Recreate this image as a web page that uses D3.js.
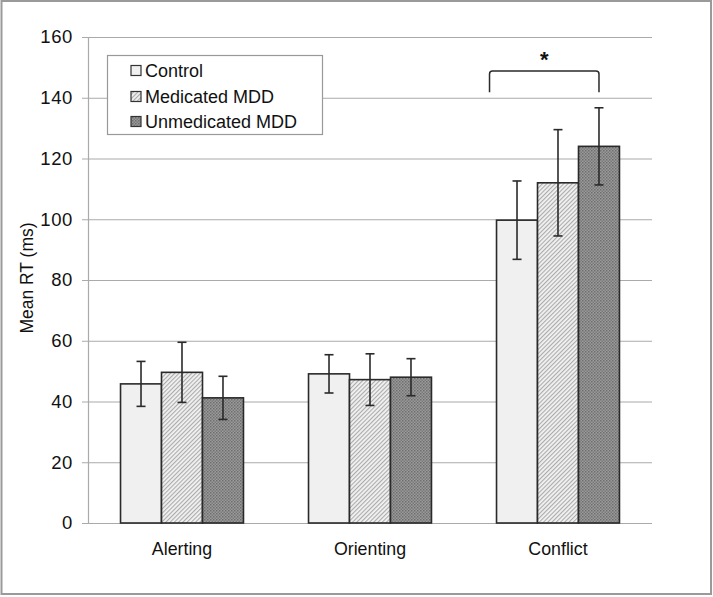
<!DOCTYPE html>
<html>
<head>
<meta charset="utf-8">
<script src="https://cdn.jsdelivr.net/npm/d3@7"></script>
<style>
  html, body { margin: 0; padding: 0; background: #fff; }
  svg { display: block; }
  text { font-family: "Liberation Sans", Arial, Helvetica, sans-serif; fill: #111; }
</style>
</head>
<body>
<svg id="chart" width="713" height="597"></svg>
<script>
// ---- data ----
const categories = ["Alerting", "Orienting", "Conflict"];
const seriesNames = ["Control", "Medicated MDD", "Unmedicated MDD"];
const controlMeans = [45.8, 49.1, 99.7];
const medicatedMeans = [49.6, 47.2, 112.0];
const unmedicatedMeans = [41.2, 48.0, 124.0];
const controlErr = [7.4, 6.3, 12.9];
const medicatedErr = [9.9, 8.5, 17.5];
const unmedicatedErr = [7.1, 6.1, 12.7];
const yTicks = [0, 20, 40, 60, 80, 100, 120, 140, 160];
const yLabel = "Mean RT (ms)";
const sigLabel = "*";

const seriesMeans = [controlMeans, medicatedMeans, unmedicatedMeans];
const seriesErrs = [controlErr, medicatedErr, unmedicatedErr];

const svg = d3.select("#chart");
const W = 713, H = 597;

// defs: patterns
const defs = svg.append("defs");
const hatch = defs.append("pattern").attr("id", "hatch")
  .attr("patternUnits", "userSpaceOnUse").attr("width", 3).attr("height", 3)
  .attr("patternTransform", "rotate(45)");
hatch.append("rect").attr("width", 3).attr("height", 3).attr("fill", "#f2f2f2");
hatch.append("rect").attr("width", 1.1).attr("height", 3).attr("fill", "#ababab");

const dots = defs.append("pattern").attr("id", "dots")
  .attr("patternUnits", "userSpaceOnUse").attr("width", 3).attr("height", 3);
dots.append("rect").attr("width", 3).attr("height", 3).attr("fill", "#9a9a9a");
dots.append("rect").attr("x", 0).attr("y", 0).attr("width", 1.5).attr("height", 1.5).attr("fill", "#6e6e6e");
dots.append("rect").attr("x", 1.5).attr("y", 1.5).attr("width", 1.5).attr("height", 1.5).attr("fill", "#7a7a7a");

const fills = ["#f0f0f0", "url(#hatch)", "url(#dots)"];

// outer border
svg.append("rect").attr("x", 1.5).attr("y", 1).attr("width", W - 3.5).attr("height", H - 4)
  .attr("fill", "none").attr("stroke", "#9a9a9a").attr("stroke-width", 2);

const mLeft = 88, mRight = 652, mTop = 37, mBottom = 523;

const y = d3.scaleLinear().domain([0, 160]).range([mBottom, mTop]);
const x = d3.scaleBand().domain(categories).range([mLeft, mRight])
  .paddingInner(0.346).paddingOuter(0.173);
const xs = d3.scaleBand().domain(seriesNames).range([0, x.bandwidth()]);

// gridlines
svg.append("g").selectAll("line").data(yTicks).join("line")
  .attr("x1", mLeft - 6).attr("x2", mRight)
  .attr("y1", d => y(d) + 0.5).attr("y2", d => y(d) + 0.5)
  .attr("stroke", "#aaaaaa").attr("stroke-width", 1.2);

// y axis line
svg.append("line").attr("x1", mLeft + 0.5).attr("x2", mLeft + 0.5)
  .attr("y1", mTop).attr("y2", mBottom)
  .attr("stroke", "#aaaaaa").attr("stroke-width", 1.2);

// y tick labels
svg.append("g").selectAll("text").data(yTicks).join("text")
  .attr("x", mLeft - 15).attr("y", d => y(d))
  .attr("dy", "0.35em").attr("text-anchor", "end")
  .attr("font-size", 18.5).attr("letter-spacing", 0.6).text(d => d);

// y label
svg.append("text")
  .attr("transform", `translate(27,${(mTop + mBottom) / 2 - 2}) rotate(-90)`)
  .attr("text-anchor", "middle").attr("dy", "0.35em")
  .attr("font-size", 17.5).text(yLabel);

// x labels
svg.append("g").selectAll("text").data(categories).join("text")
  .attr("x", d => x(d) + x.bandwidth() / 2).attr("y", 549)
  .attr("dy", "0.35em").attr("text-anchor", "middle")
  .attr("font-size", 17.8).text(d => d);

// bars
const barData = [];
categories.forEach((c, i) => {
  seriesNames.forEach((s, j) => {
    barData.push({ cat: c, ser: s, j, v: seriesMeans[j][i], e: seriesErrs[j][i] });
  });
});

svg.append("g").selectAll("rect").data(barData).join("rect")
  .attr("x", d => x(d.cat) + xs(d.ser))
  .attr("y", d => y(d.v))
  .attr("width", xs.bandwidth())
  .attr("height", d => y(0) - y(d.v))
  .attr("fill", d => fills[d.j])
  .attr("stroke", "#2a2a2a").attr("stroke-width", 1.6);

// error bars
const eg = svg.append("g").attr("stroke", "#2a2a2a").attr("stroke-width", 1.6);
barData.forEach(d => {
  const cx = x(d.cat) + xs(d.ser) + xs.bandwidth() / 2;
  eg.append("line").attr("x1", cx).attr("x2", cx).attr("y1", y(d.v + d.e)).attr("y2", y(d.v - d.e));
  eg.append("line").attr("x1", cx - 4.5).attr("x2", cx + 4.5).attr("y1", y(d.v + d.e)).attr("y2", y(d.v + d.e));
  eg.append("line").attr("x1", cx - 4.5).attr("x2", cx + 4.5).attr("y1", y(d.v - d.e)).attr("y2", y(d.v - d.e));
});

// significance bracket (Conflict: Control vs Unmedicated)
const bx1 = x("Conflict") - 7;
const bx2 = x("Conflict") + xs("Unmedicated MDD") + xs.bandwidth() / 2;
const byTop = y(148.8), byEnd = y(141.8);
const r = 3;
svg.append("path")
  .attr("d", `M${bx1},${byEnd} L${bx1},${byTop + r} Q${bx1},${byTop} ${bx1 + r},${byTop} L${bx2 - r},${byTop} Q${bx2},${byTop} ${bx2},${byTop + r} L${bx2},${byEnd}`)
  .attr("fill", "none").attr("stroke", "#2a2a2a").attr("stroke-width", 1.5);
svg.append("text").attr("x", (bx1 + bx2) / 2).attr("y", 67)
  .attr("text-anchor", "middle").attr("font-size", 22).attr("font-weight", "bold")
  .text(sigLabel);

// legend
const lg = svg.append("g");
lg.append("rect").attr("x", 107.5).attr("y", 55.5).attr("width", 215).attr("height", 79)
  .attr("fill", "#fff").attr("stroke", "#999").attr("stroke-width", 1.2);
const rowY = [71, 97, 122];
seriesNames.forEach((s, j) => {
  lg.append("rect").attr("x", 131).attr("y", rowY[j] - 5.5).attr("width", 10).attr("height", 10)
    .attr("fill", fills[j]).attr("stroke", "#333").attr("stroke-width", 1.2);
  lg.append("text").attr("x", 145).attr("y", rowY[j]).attr("dy", "0.35em")
    .attr("font-size", 18).text(s);
});
</script>
</body>
</html>
